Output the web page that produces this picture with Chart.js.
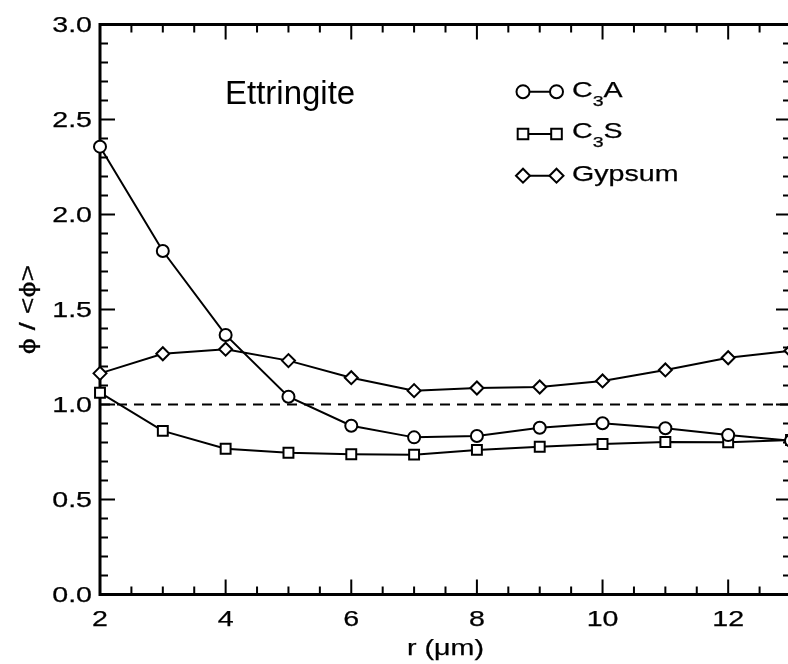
<!DOCTYPE html>
<html>
<head>
<meta charset="utf-8">
<script src="https://cdn.jsdelivr.net/npm/chart.js@4/dist/chart.umd.min.js"></script>
<style>
    html, body { margin: 0; padding: 0; background: #fff; overflow: hidden; }
    #wrap { position: absolute; left: 0; top: 0; width: 800px; height: 664px; }
</style>
</head>
<body>
<div id="wrap"><canvas id="chart" width="800" height="664"></canvas></div>
<script>
const rValues = [2, 3, 4, 5, 6, 7, 8, 9, 10, 11, 12, 13];
const c3a = [2.357, 1.808, 1.366, 1.041, 0.888, 0.827, 0.834, 0.878, 0.901, 0.875, 0.839, 0.809];
const c3s = [1.062, 0.861, 0.767, 0.746, 0.738, 0.736, 0.761, 0.778, 0.792, 0.803, 0.801, 0.813];
const gypsum = [1.164, 1.267, 1.291, 1.231, 1.141, 1.073, 1.087, 1.092, 1.124, 1.182, 1.246, 1.283];
const refX = [2, 13];
const refY = [1, 1];
const xTicks = [2, 4, 6, 8, 10, 12];
const yTicks = [0, 0.5, 1.0, 1.5, 2.0, 2.5, 3.0];
const legendNames = [["C", "3", "A"], ["C", "3", "S"], ["Gypsum", "", ""]];

(function () {
    const FONT = "'Liberation Sans', Arial, sans-serif";
    const SX = 1.3;

    function pts(xs, ys) {
        return xs.map(function (x, i) { return { x: x, y: ys[i] }; });
    }

    // texto con estiramiento horizontal
    function wideText(ctx, str, x, y, size, align, sx, weight) {
        ctx.save();
        ctx.font = size + "px " + FONT;
        ctx.translate(x, y);
        ctx.scale(sx, 1);
        ctx.textAlign = align;
        ctx.fillText(str, 0, 0);
        if (weight) {
            ctx.lineWidth = weight;
            ctx.strokeStyle = ctx.fillStyle;
            ctx.strokeText(str, 0, 0);
        }
        const w = ctx.measureText(str).width * sx;
        ctx.restore();
        return w;
    }

    function marker(ctx, style, x, y, r) {
        ctx.beginPath();
        if (style === "circle") {
            ctx.arc(x, y, r, 0, Math.PI * 2);
        } else if (style === "rect") {
            const s = r * Math.SQRT1_2;
            ctx.rect(x - s, y - s, 2 * s, 2 * s);
        } else {
            ctx.moveTo(x - r, y);
            ctx.lineTo(x, y - r);
            ctx.lineTo(x + r, y);
            ctx.lineTo(x, y + r);
            ctx.closePath();
        }
        ctx.fillStyle = "#fff";
        ctx.fill();
        ctx.stroke();
    }

    /* ============ Marco y marcas hacia dentro ============ */
    const framePlugin = {
        id: "frame",
        beforeDatasetsDraw: function (chart) {
            const ctx = chart.ctx;
            const a = chart.chartArea;
            const xs = chart.scales.x;
            const ys = chart.scales.y;
            ctx.save();
            ctx.strokeStyle = "#000";
            ctx.lineWidth = 2;
            ctx.beginPath();
            for (let v = 2; v <= 13.001; v += 0.5) {
                const px = xs.getPixelForValue(v);
                const len = Math.abs(v / 2 - Math.round(v / 2)) < 1e-6 ? 15 : 8;
                ctx.moveTo(px, a.bottom); ctx.lineTo(px, a.bottom - len);
                ctx.moveTo(px, a.top); ctx.lineTo(px, a.top + len);
            }
            for (let i = 0; i <= 30; i++) {
                const v = i / 10;
                const py = ys.getPixelForValue(v);
                const len = i % 5 === 0 ? 15 : 8;
                ctx.moveTo(a.left, py); ctx.lineTo(a.left + len, py);
                ctx.moveTo(a.right, py); ctx.lineTo(a.right - len, py);
            }
            ctx.stroke();
            ctx.lineWidth = 3;
            ctx.strokeRect(a.left, a.top, a.right - a.left, a.bottom - a.top);
            ctx.restore();
        },
        afterDraw: function (chart) {
            const ctx = chart.ctx;
            const a = chart.chartArea;
            const xs = chart.scales.x;
            const ys = chart.scales.y;
            const W = 0.25;
            ctx.save();
            ctx.fillStyle = "#000";
            ctx.textBaseline = "alphabetic";
            xs.ticks.forEach(function (t) {
                wideText(ctx, String(t.value), xs.getPixelForValue(t.value), a.bottom + 31, 22, "center", SX, W);
            });
            ctx.textBaseline = "middle";
            ys.ticks.forEach(function (t) {
                wideText(ctx, t.value.toFixed(1), a.left - 8, ys.getPixelForValue(t.value) + 1, 22, "right", SX, W);
            });
            ctx.textBaseline = "alphabetic";
            wideText(ctx, "r (\u03bcm)", (a.left + a.right) / 2, 655, 22, "center", SX, W);

            ctx.save();
            ctx.translate(29, (a.top + a.bottom) / 2);
            ctx.rotate(-Math.PI / 2);
            ctx.textBaseline = "middle";
            wideText(ctx, "\u03d5 / <\u03d5>", 0, 0, 22, "center", SX, W);
            ctx.restore();

            wideText(ctx, "Ettringite", 225, 104, 33, "left", 1, 0);

            // leyenda
            const styles = ["circle", "rect", "rectRot"];
            const radii = [6.5, 7.5, 7];
            const rowMark = [91.7, 134, 175.7];
            const rowBase = [97, 137.5, 181];
            legendNames.forEach(function (parts, i) {
                ctx.strokeStyle = "#000";
                ctx.lineWidth = 2;
                ctx.beginPath();
                ctx.moveTo(523, rowMark[i]);
                ctx.lineTo(556.5, rowMark[i]);
                ctx.stroke();
                marker(ctx, styles[i], 523, rowMark[i], radii[i]);
                marker(ctx, styles[i], 556.5, rowMark[i], radii[i]);
                ctx.fillStyle = "#000";
                let x = 572;
                x += wideText(ctx, parts[0], x, rowBase[i], 22, "left", SX, W);
                if (parts[1]) {
                    x += wideText(ctx, parts[1], x, rowBase[i] + 9, 15, "left", SX, W);
                }
                if (parts[2]) {
                    wideText(ctx, parts[2], x, rowBase[i], 22, "left", SX, W);
                }
            });
            ctx.restore();
        },
    };

    const serie = function (label, ys, style, r) {
        return {
            label: label,
            data: pts(rValues, ys),
            borderColor: "#000",
            backgroundColor: "#fff",
            borderWidth: 2,
            pointStyle: style,
            pointRadius: r,
            pointBorderWidth: 2,
            pointBackgroundColor: "#fff",
            pointBorderColor: "#000",
            tension: 0,
            clip: false,
        };
    };

    const hiddenAxis = function (min, max, list) {
        return {
            type: "linear",
            min: min,
            max: max,
            grid: { display: false, drawTicks: false, tickLength: 0 },
            border: { display: false },
            ticks: { display: false, padding: 0 },
            afterBuildTicks: function (s) {
                s.ticks = list.map(function (v) { return { value: v }; });
            },
        };
    };

    new Chart(document.getElementById("chart").getContext("2d"), {
        type: "line",
        data: {
            datasets: [
                {
                    label: "ref",
                    data: pts(refX, refY),
                    borderColor: "#000",
                    borderWidth: 2,
                    borderDash: [10, 7],
                    pointRadius: 0,
                    clip: false,
                },
                serie("C3A", c3a, "circle", 6),
                serie("C3S", c3s, "rect", 7),
                serie("Gypsum", gypsum, "rectRot", 6.5),
            ],
        },
        options: {
            responsive: false,
            animation: false,
            devicePixelRatio: 1,
            layout: {
                padding: { left: 100, top: 24.5, right: 7, bottom: 69.5 },
            },
            plugins: {
                legend: { display: false },
                tooltip: { enabled: false },
            },
            scales: {
                x: hiddenAxis(2, 13, xTicks),
                y: hiddenAxis(0, 3, yTicks),
            },
        },
        plugins: [framePlugin],
    });
})();
</script>
</body>
</html>
